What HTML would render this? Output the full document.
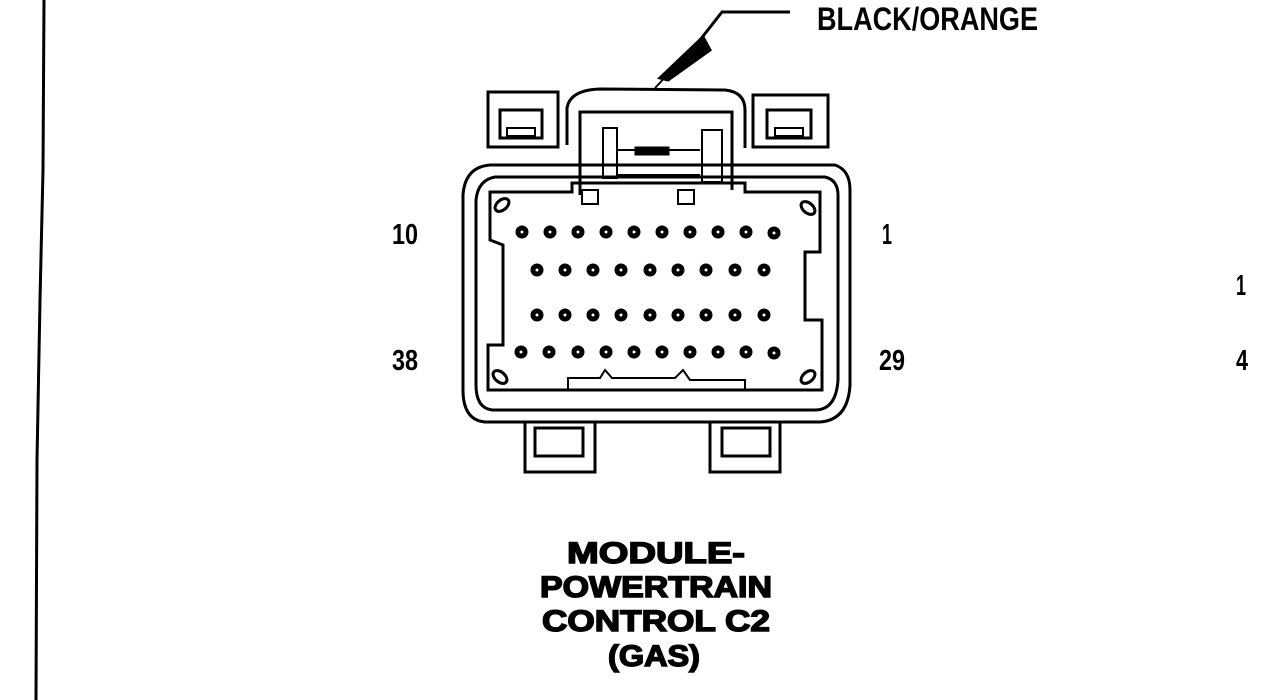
<!DOCTYPE html>
<html><head><meta charset="utf-8"><style>
html,body{margin:0;padding:0;background:#fff;width:1265px;height:700px;overflow:hidden}
svg{display:block}
</style></head><body>
<svg width="1265" height="700" viewBox="0 0 1265 700" xmlns="http://www.w3.org/2000/svg">
<rect width="1265" height="700" fill="#fff"/>
<path d="M44 0 L43 170 L40 300 L37 460 L36 700" stroke="#000" stroke-width="3" fill="none"/>
<g fill="none" stroke="#000" stroke-width="3">
<path d="M790 12 L722 12 L700 40"/>
<path d="M700 40 L655 88" stroke-width="2"/>
<polygon points="703,37 710,50 668,80 660,78" fill="#000"/>
<rect x="488" y="92" width="70" height="55"/>
<rect x="500" y="110" width="42" height="28"/>
<rect x="507" y="128" width="28" height="8" stroke-width="2"/>
<rect x="753" y="95" width="75" height="52"/>
<rect x="767" y="110" width="44" height="28"/>
<rect x="775" y="128" width="28" height="8" stroke-width="2"/>
<path d="M567 145 L567 108 Q570 90 600 89 L725 90 Q745 92 745 110 L745 148"/>
<path d="M580 195 L580 112 L732 112 L732 190"/>
<rect x="603" y="128" width="14" height="50" stroke-width="2"/>
<rect x="702" y="130" width="20" height="52" stroke-width="2"/>
<path d="M618 150 L700 150 M618 165 L700 165 M618 175 L700 175" stroke-width="2"/>
<rect x="636" y="148" width="32" height="6" fill="#000"/>
<path d="M490 165 L835 165 Q850 170 850 190 L850 385 Q848 420 820 422 L485 422 Q463 420 463 390 L463 195 Q465 167 490 165 Z"/>
<path d="M495 177 L825 177 Q838 180 838 195 L838 380 Q836 410 815 410 L492 410 Q476 408 476 385 L476 200 Q478 180 495 177 Z"/>
<path d="M490 192 L572 192 L572 183 L745 183 L745 192 L820 192 L820 252 L805 252 L805 320 L822 320 L822 390 L488 390 L488 345 L503 345 L503 245 L490 240 Z"/>
<path d="M568 390 L568 378 L600 378 L605 370 L612 378 L675 378 L683 370 L690 380 L745 380 L745 390" stroke-width="2"/>
<rect x="582" y="190" width="16" height="14" stroke-width="2"/>
<rect x="678" y="190" width="16" height="14" stroke-width="2"/>
<ellipse cx="502" cy="205" rx="8" ry="5" transform="rotate(-40 502 205)"/>
<ellipse cx="808" cy="208" rx="8" ry="5" transform="rotate(40 808 208)"/>
<ellipse cx="500" cy="377" rx="8" ry="5" transform="rotate(40 500 377)"/>
<ellipse cx="808" cy="377" rx="8" ry="5" transform="rotate(-40 808 377)"/>
<path d="M525 422 L525 472 L595 472 L595 422"/>
<rect x="535" y="428" width="48" height="28"/>
<path d="M710 422 L710 472 L780 472 L780 422"/>
<rect x="722" y="428" width="48" height="28"/>
</g>
<g fill="#fff" stroke="#000" stroke-width="5">
<circle cx="522" cy="232" r="4"/><circle cx="550" cy="232" r="4"/><circle cx="578" cy="232" r="4"/><circle cx="606" cy="232" r="4"/><circle cx="634" cy="232" r="4"/><circle cx="662" cy="232" r="4"/><circle cx="690" cy="232" r="4"/><circle cx="718" cy="232" r="4"/><circle cx="746" cy="232" r="4"/><circle cx="774" cy="233" r="4"/>
<circle cx="537" cy="270" r="4"/><circle cx="565" cy="270" r="4"/><circle cx="593" cy="270" r="4"/><circle cx="621" cy="270" r="4"/><circle cx="650" cy="270" r="4"/><circle cx="678" cy="270" r="4"/><circle cx="706" cy="270" r="4"/><circle cx="735" cy="270" r="4"/><circle cx="764" cy="270" r="4"/>
<circle cx="537" cy="315" r="4"/><circle cx="565" cy="315" r="4"/><circle cx="593" cy="315" r="4"/><circle cx="621" cy="315" r="4"/><circle cx="650" cy="315" r="4"/><circle cx="678" cy="315" r="4"/><circle cx="706" cy="315" r="4"/><circle cx="735" cy="315" r="4"/><circle cx="764" cy="315" r="4"/>
<circle cx="521" cy="352" r="4"/><circle cx="549" cy="352" r="4"/><circle cx="578" cy="352" r="4"/><circle cx="606" cy="352" r="4"/><circle cx="634" cy="352" r="4"/><circle cx="662" cy="352" r="4"/><circle cx="690" cy="352" r="4"/><circle cx="718" cy="352" r="4"/><circle cx="746" cy="352" r="4"/><circle cx="774" cy="353" r="4"/>
</g>
<g font-family="Liberation Sans, sans-serif" font-weight="bold" fill="#000">
<text x="817" y="30" font-size="32" textLength="221" lengthAdjust="spacingAndGlyphs">BLACK/ORANGE</text>
<text x="392" y="244" font-size="29" textLength="26" lengthAdjust="spacingAndGlyphs">10</text>
<text x="882" y="244" font-size="29" textLength="10" lengthAdjust="spacingAndGlyphs">1</text>
<text x="392" y="370" font-size="29" textLength="26" lengthAdjust="spacingAndGlyphs">38</text>
<text x="879" y="370" font-size="29" textLength="26" lengthAdjust="spacingAndGlyphs">29</text>
<text x="1236" y="295" font-size="29" textLength="10" lengthAdjust="spacingAndGlyphs">1</text>
<text x="1236" y="370" font-size="29" textLength="12" lengthAdjust="spacingAndGlyphs">4</text>
</g>
<g font-family="Liberation Sans, sans-serif" font-weight="900" fill="#000" font-size="30" text-anchor="middle" stroke="#000" stroke-width="1.5">
<text x="656" y="563" textLength="178" lengthAdjust="spacingAndGlyphs">MODULE-</text>
<text x="656" y="597" textLength="232" lengthAdjust="spacingAndGlyphs">POWERTRAIN</text>
<text x="656" y="631" textLength="228" lengthAdjust="spacingAndGlyphs">CONTROL C2</text>
<text x="654" y="666" textLength="92" lengthAdjust="spacingAndGlyphs">(GAS)</text>
</g>
</svg>
</body></html>
